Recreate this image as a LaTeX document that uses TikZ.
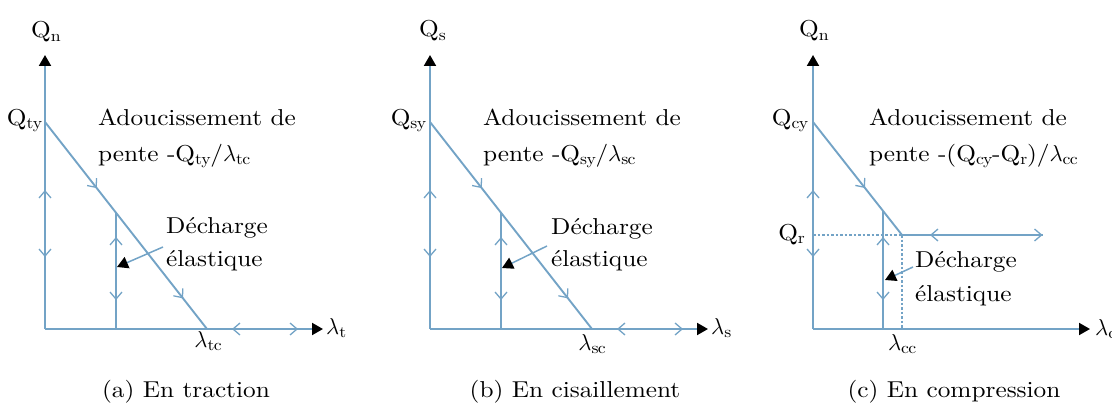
\RequirePackage{fix-cm}
\documentclass[tikz,border=0pt]{standalone}
\usepackage{fontspec}
\setmainfont{lmroman10-regular.otf}[FakeStretch=1.1]
\usetikzlibrary{arrows.meta,decorations.markings}
\definecolor{lb}{RGB}{115,163,198}
\tikzset{
  ln/.style={draw=lb, line width=1.9pt},
  chev/.tip={Straight Barb[length=7pt,width=12pt,line width=1.3pt]},
  blk/.tip={Triangle[length=11pt,width=12pt,color=black]},
  fw/.style={postaction={decorate,decoration={markings,mark=at position #1 with {\arrow{chev}}}}},
  bw/.style={postaction={decorate,decoration={markings,mark=at position #1 with {\arrowreversed{chev}}}}},
  ax/.style={ln,-blk},
  dotl/.style={draw=lb, line width=1.2pt, dash pattern=on 2.5pt off 2pt},
  ptr/.style={draw=lb, line width=1.5pt, -blk},
  txt/.style={anchor=base west, inner sep=0pt},
  lab/.style={inner sep=0pt},
}
\begin{document}
\begin{tikzpicture}[x=1pt,y=-1pt,font=\fontsize{23}{28}\selectfont]
\useasboundingbox (0,0) rectangle (1112,412);

% ---------- panel (a) ----------
\coordinate (Oa) at (45,329);
\coordinate (Ya) at (45,55);
\coordinate (Xa) at (323,329);
\coordinate (Qa) at (45,122);
\coordinate (La) at (207,329);
\coordinate (Ba) at (116,329);
\coordinate (Ta) at (116,212.7);
\coordinate (Pa) at (163,247);
\coordinate (Ra) at (117,267);
\draw[ax, fw=139pt, bw=72pt] (Oa) -- (Ya);
\draw[ax, bw=187pt, fw=253pt] (Oa) -- (Xa);
\draw[ln, fw=84pt, fw=224pt] (Qa) -- (La);
\draw[ln, fw=92pt, bw=29pt] (Ba) -- (Ta);
\draw[ptr] (Pa) -- (Ra);
\node[lab, anchor=base west] (qna) at (31,38) {Q$_\mathrm{n}$};
\node[lab, anchor=base east] (qty) at (42,125) {Q$_\mathrm{ty}$};
\node[lab, anchor=base west] (lt) at (326,334) {$\lambda_\mathrm{t}$};
\node[lab, anchor=north] (ltc) at (208,331) {$\lambda_\mathrm{tc}$};
\node[txt] (ta1) at (98,125) {Adoucissement de};
\node[txt] (ta2) at (98,161) {pente -Q$_\mathrm{ty}$/$\lambda_\mathrm{tc}$};
\node[txt] (da1) at (166,233) {Décharge};
\node[txt] (da2) at (166,266) {élastique};
\node[anchor=base] (ca) at (186,397) {(a) En traction};

% ---------- panel (b) ----------
\coordinate (Ob) at (430,329);
\coordinate (Yb) at (430,55);
\coordinate (Xb) at (708,329);
\coordinate (Qb) at (430,122);
\coordinate (Lb) at (592,329);
\coordinate (Bb) at (501,329);
\coordinate (Tb) at (501,212.7);
\coordinate (Pb) at (547,246);
\coordinate (Rb) at (502,268);
\draw[ax, fw=139pt, bw=72pt] (Ob) -- (Yb);
\draw[ax, bw=187pt, fw=253pt] (Ob) -- (Xb);
\draw[ln, fw=84pt, fw=224pt] (Qb) -- (Lb);
\draw[ln, fw=92pt, bw=29pt] (Bb) -- (Tb);
\draw[ptr] (Pb) -- (Rb);
\node[lab, anchor=base west] (qs) at (419,37) {Q$_\mathrm{s}$};
\node[lab, anchor=base east] (qsy) at (426,125) {Q$_\mathrm{sy}$};
\node[lab, anchor=base west] (ls) at (711,334) {$\lambda_\mathrm{s}$};
\node[lab, anchor=north] (lsc) at (592,334) {$\lambda_\mathrm{sc}$};
\node[txt] (tb1) at (483,125) {Adoucissement de};
\node[txt] (tb2) at (483,161) {pente -Q$_\mathrm{sy}$/$\lambda_\mathrm{sc}$};
\node[txt] (db1) at (551,234) {Décharge};
\node[txt] (db2) at (551,266) {élastique};
\node[anchor=base] (cb) at (575,397) {(b) En cisaillement};

% ---------- panel (c) ----------
\coordinate (Oc) at (813,329);
\coordinate (Yc) at (813,55);
\coordinate (Xc) at (1090,329);
\coordinate (Qc) at (813,122);
\coordinate (K) at (902,235);
\coordinate (Rl) at (813,235);
\coordinate (H) at (1043,235);
\coordinate (Kb) at (902,329);
\coordinate (Bc) at (883,329);
\coordinate (Tc) at (883,210.9);
\coordinate (Pc) at (913,267);
\coordinate (Rc) at (885,280);
\draw[dotl] (Rl) -- (K);
\draw[dotl] (K) -- (Kb);
\draw[ax, fw=139pt, bw=72pt] (Oc) -- (Yc);
\draw[ax] (Oc) -- (Xc);
\draw[ln, fw=84pt] (Qc) -- (K);
\draw[ln, bw=28pt, fw=140.5pt] (K) -- (H);
\draw[ln, fw=92pt, bw=29pt] (Bc) -- (Tc);
\draw[ptr] (Pc) -- (Rc);
\node[lab, anchor=base west] (qnc) at (799,37) {Q$_\mathrm{n}$};
\node[lab, anchor=base east] (qcy) at (808,125) {Q$_\mathrm{cy}$};
\node[lab, anchor=base east] (qr) at (805,240) {Q$_\mathrm{r}$};
\node[lab, anchor=base west] (lc) at (1095,335) {$\lambda_\mathrm{c}$};
\node[lab, anchor=north] (lcc) at (902,334) {$\lambda_\mathrm{cc}$};
\node[txt] (tc1) at (869,125) {Adoucissement de};
\node[txt] (tc2) at (869,161) {pente -(Q$_\mathrm{cy}$-Q$_\mathrm{r}$)/$\lambda_\mathrm{cc}$};
\node[txt] (dc1) at (915,267) {Décharge};
\node[txt] (dc2) at (915,301) {élastique};
\node[anchor=base] (cc) at (954,397) {(c) En compression};
\end{tikzpicture}
\end{document}
